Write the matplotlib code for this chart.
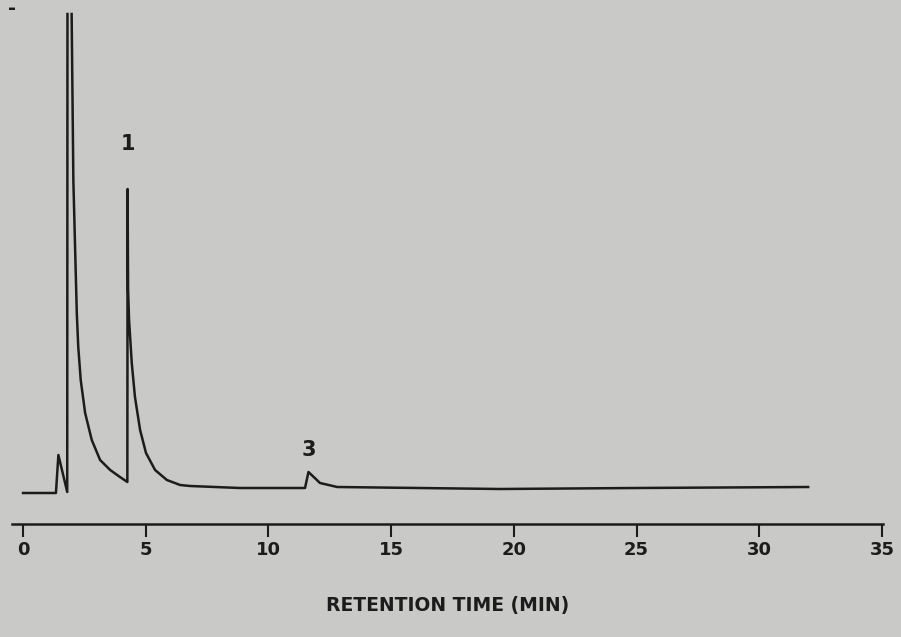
import numpy as np
import matplotlib
matplotlib.use("Agg")
import matplotlib.pyplot as plt

# Chromatogram trace (time in min, detector signal in arbitrary units)
time_min = [0.00, 1.34, 1.44, 1.80, 1.81, np.nan, 1.98, 2.05, 2.12, 2.19, 2.25, 2.35,
            2.53, 2.80, 3.14, 3.55, 3.95, 4.25, 4.26, 4.28, 4.32, 4.43, 4.56, 4.77,
            5.01, 5.38, 5.86, 6.40, 6.81, 8.84, 11.49, 11.63, 12.10, 12.80, 19.44,
            25.00, 31.99]
signal = [31, 31, 69, 32, 510, np.nan, 510, 344, 277, 211, 177, 144,
          111, 84, 64, 54, 47, 42, 335, 234, 204, 161, 127, 94,
          71, 54, 44, 39, 38, 36, 36, 52, 41, 37, 35,
          36, 37]

peak_labels = ["1", "3"]
peak_label_times = [4.29, 11.63]
peak_label_heights = [380, 74]

x_ticks = [0, 5, 10, 15, 20, 25, 30, 35]
x_tick_labels = ["0", "5", "10", "15", "20", "25", "30", "35"]
x_label = "RETENTION TIME (MIN)"

bg = "#c9c9c7"
ink = "#1c1c1c"

fig = plt.figure(figsize=(9.01, 6.37), dpi=100, facecolor=bg)
ax = fig.add_axes([12 / 901, (637 - 524) / 637, 870.5 / 901, 524 / 637])
ax.set_facecolor(bg)

ax.plot(time_min, signal, color=ink, lw=1.8, solid_joinstyle="round")

for lab, t, h in zip(peak_labels, peak_label_times, peak_label_heights):
    ax.text(t, h, lab, ha="center", va="center", fontsize=15,
            fontweight="bold", color=ink, family="DejaVu Sans")

ax.set_xlim(-0.45, 35.02)
ax.set_ylim(0, 524)

for s in ["left", "top", "right"]:
    ax.spines[s].set_visible(False)
ax.spines["bottom"].set_color(ink)
ax.spines["bottom"].set_linewidth(1.8)

ax.set_yticks([])
ax.set_xticks(x_ticks)
ax.set_xticklabels(x_tick_labels, fontsize=13, fontweight="bold", color=ink,
                   family="DejaVu Sans")
ax.tick_params(axis="x", direction="out", length=9, width=1.5, color=ink, pad=3)

ax.set_xlabel(x_label, fontsize=13.5, fontweight="bold", color=ink,
              family="DejaVu Sans", labelpad=27)

fig.text(12 / 901, 1 - 9 / 637, "-", fontsize=14, fontweight="bold", color=ink,
         ha="center", va="center")

fig.savefig("out.png", dpi=100, facecolor=bg)
